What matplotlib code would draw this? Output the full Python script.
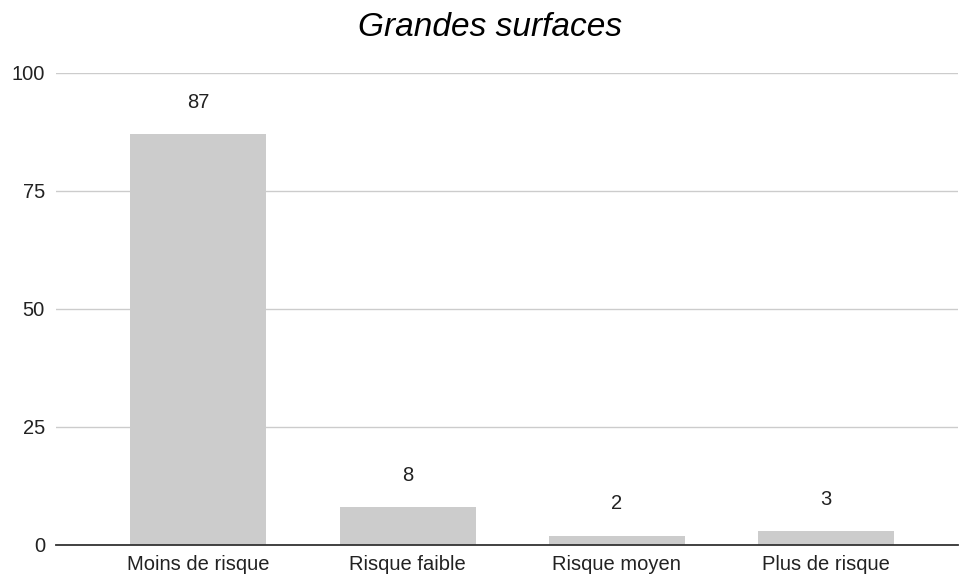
import matplotlib.pyplot as plt

# categories and counts for the bar chart
categories = ["Moins de risque", "Risque faible", "Risque moyen", "Plus de risque"]
values = [87, 8, 2, 3]
yticks = [0, 25, 50, 75, 100]

plt.rcParams['font.family'] = ['Liberation Sans', 'DejaVu Sans']

fig = plt.figure(figsize=(9.59, 5.76), dpi=100)
ax = fig.add_axes([56 / 959, 1 - 545 / 576, 902 / 959, 472 / 576])

x = range(len(categories))
bars = ax.bar(x, values, width=0.65, color="#cccccc", zorder=2)

# value labels above each bar
for xi, v in zip(x, values):
    ax.annotate(str(v), (xi, v), xytext=(0, 16), textcoords="offset points",
                ha="center", va="bottom", fontsize=14.5, color="#222222")

ax.set_xlim(-0.68, 3.63)
ax.set_ylim(0, 100)
ax.set_yticks(yticks)
ax.set_xticks(list(x))
ax.set_xticklabels(categories)
ax.tick_params(axis="both", length=0, labelsize=14.5, labelcolor="#222222")
ax.tick_params(axis="y", pad=8)
ax.tick_params(axis="x", pad=7)

ax.grid(axis="y", color="#cccccc", linewidth=1, zorder=0)
for s in ["top", "right", "left"]:
    ax.spines[s].set_visible(False)
ax.spines["bottom"].set_color("#333333")
ax.spines["bottom"].set_linewidth(1.3)
ax.spines["bottom"].set_zorder(3)

fig.text(490 / 959, 1 - 27 / 576, "Grandes surfaces", ha="center", va="center",
         fontsize=24, style="italic", color="#000000")

fig.savefig("out.png", dpi=100)
